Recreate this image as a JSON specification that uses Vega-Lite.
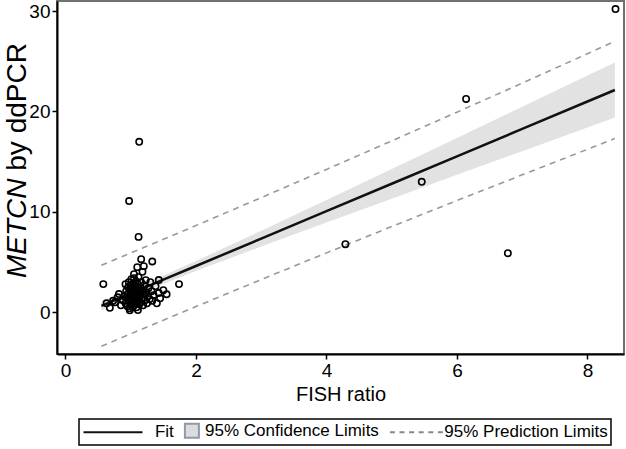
{
  "$schema": "https://vega.github.io/schema/vega-lite/v6.json",
  "width": 567,
  "height": 353,
  "autosize": {"type": "none"},
  "padding": {"left": 57, "top": 1, "right": 2, "bottom": 95},
  "config": {
    "font": "Liberation Sans",
    "view": {"stroke": "#707070", "strokeWidth": 2},
    "axis": {"grid": false, "domainColor": "#000", "domainWidth": 2, "tickColor": "#000", "tickWidth": 1.5, "tickSize": 5, "labelColor": "#000", "titleColor": "#000", "labelFontSize": 19, "titleFontSize": 20, "titleFontWeight": "normal", "labelPadding": 2, "format": "d"},
    "legend": {"orient": "none", "legendX": 22, "legendY": 418, "direction": "horizontal", "strokeColor": "#000", "strokeWidth": 1.5, "padding": 3, "labelFontSize": 17, "labelColor": "#000", "labelLimit": 400, "symbolStrokeWidth": 2, "symbolOpacity": 1, "symbolSize": 16, "symbolFillColor": "#dcdcdc", "columnPadding": 6, "labelOffset": 4, "title": null}
  },
  "resolve": {"axis": {"y": "independent"}},
  "datasets": {
    "pts": [
      {"x": 8.43, "y": 30.2}, {"x": 6.14, "y": 21.25}, {"x": 5.46, "y": 13.0}, {"x": 4.29, "y": 6.78}, {"x": 6.78, "y": 5.89},
      {"x": 1.13, "y": 16.98}, {"x": 0.975, "y": 11.08}, {"x": 1.12, "y": 7.51}, {"x": 1.16, "y": 5.29}, {"x": 1.33, "y": 5.06},
      {"x": 1.18, "y": 4.03}, {"x": 0.58, "y": 2.81}, {"x": 1.74, "y": 2.81}, {"x": 1.43, "y": 1.92}, {"x": 1.43, "y": 3.21},
      {"x": 1.33, "y": 1.15}, {"x": 1.11, "y": 0.23}, {"x": 0.985, "y": 0.2}, {"x": 0.63, "y": 0.9}, {"x": 0.68, "y": 0.45},
      {"x": 0.73, "y": 1.15}, {"x": 0.82, "y": 1.82},
      {"x": 0.88, "y": 1.2}, {"x": 0.90, "y": 1.6}, {"x": 0.92, "y": 0.9}, {"x": 0.93, "y": 2.1}, {"x": 0.94, "y": 1.4},
      {"x": 0.95, "y": 0.6}, {"x": 0.95, "y": 1.8}, {"x": 0.96, "y": 2.5}, {"x": 0.97, "y": 1.1}, {"x": 0.97, "y": 3.0},
      {"x": 0.98, "y": 0.4}, {"x": 0.98, "y": 1.5}, {"x": 0.99, "y": 2.2}, {"x": 1.00, "y": 0.8}, {"x": 1.00, "y": 1.3},
      {"x": 1.00, "y": 1.9}, {"x": 1.00, "y": 2.7}, {"x": 1.01, "y": 3.3}, {"x": 1.02, "y": 1.0}, {"x": 1.02, "y": 1.6},
      {"x": 1.02, "y": 2.4}, {"x": 1.03, "y": 0.5}, {"x": 1.03, "y": 2.0}, {"x": 1.04, "y": 1.2}, {"x": 1.04, "y": 2.9},
      {"x": 1.05, "y": 1.7}, {"x": 1.05, "y": 0.7}, {"x": 1.05, "y": 3.4}, {"x": 1.06, "y": 2.3}, {"x": 1.06, "y": 1.4},
      {"x": 1.07, "y": 0.9}, {"x": 1.07, "y": 2.6}, {"x": 1.08, "y": 1.9}, {"x": 1.08, "y": 3.1}, {"x": 1.09, "y": 1.1},
      {"x": 1.09, "y": 0.5}, {"x": 1.10, "y": 2.2}, {"x": 1.10, "y": 1.6}, {"x": 1.11, "y": 2.8}, {"x": 1.12, "y": 1.3},
      {"x": 1.12, "y": 3.5}, {"x": 1.13, "y": 0.8}, {"x": 1.13, "y": 2.0}, {"x": 1.14, "y": 1.7}, {"x": 1.15, "y": 2.5},
      {"x": 1.15, "y": 1.0}, {"x": 1.16, "y": 3.0}, {"x": 1.17, "y": 1.4}, {"x": 1.18, "y": 2.2}, {"x": 1.19, "y": 0.7},
      {"x": 1.20, "y": 1.8}, {"x": 1.21, "y": 2.7}, {"x": 1.22, "y": 1.2}, {"x": 1.23, "y": 3.2}, {"x": 1.24, "y": 2.0},
      {"x": 1.25, "y": 0.9}, {"x": 1.26, "y": 1.6}, {"x": 1.27, "y": 2.4}, {"x": 1.29, "y": 1.3}, {"x": 1.30, "y": 3.0},
      {"x": 1.32, "y": 2.1}, {"x": 1.35, "y": 1.7}, {"x": 1.38, "y": 2.6}, {"x": 1.40, "y": 0.9}, {"x": 1.45, "y": 1.4},
      {"x": 1.50, "y": 2.2}, {"x": 1.55, "y": 1.8}, {"x": 0.85, "y": 0.7}, {"x": 0.80, "y": 1.5}, {"x": 0.76, "y": 1.0},
      {"x": 1.10, "y": 4.5}, {"x": 1.05, "y": 3.8}, {"x": 1.20, "y": 4.6}, {"x": 0.92, "y": 2.8}
    ],
    "fit": [
      {"x": 0.55, "fit": 0.65, "ci_lo": 0.18, "ci_hi": 1.12, "pi_lo": -3.38, "pi_hi": 4.68},
      {"x": 1.0, "fit": 1.88, "ci_lo": 1.47, "ci_hi": 2.29, "pi_lo": -2.14, "pi_hi": 5.90},
      {"x": 1.5, "fit": 3.25, "ci_lo": 2.83, "ci_hi": 3.66, "pi_lo": -0.78, "pi_hi": 7.27},
      {"x": 2.0, "fit": 4.61, "ci_lo": 4.11, "ci_hi": 5.11, "pi_lo": 0.58, "pi_hi": 8.64},
      {"x": 3.0, "fit": 7.34, "ci_lo": 6.56, "ci_hi": 8.12, "pi_lo": 3.26, "pi_hi": 11.42},
      {"x": 4.0, "fit": 10.07, "ci_lo": 8.95, "ci_hi": 11.19, "pi_lo": 5.92, "pi_hi": 14.23},
      {"x": 5.0, "fit": 12.80, "ci_lo": 11.32, "ci_hi": 14.28, "pi_lo": 8.54, "pi_hi": 17.07},
      {"x": 6.0, "fit": 15.53, "ci_lo": 13.69, "ci_hi": 17.37, "pi_lo": 11.13, "pi_hi": 19.93},
      {"x": 7.0, "fit": 18.26, "ci_lo": 16.05, "ci_hi": 20.47, "pi_lo": 13.69, "pi_hi": 22.83},
      {"x": 8.0, "fit": 20.99, "ci_lo": 18.41, "ci_hi": 23.57, "pi_lo": 16.23, "pi_hi": 25.75},
      {"x": 8.42, "fit": 22.14, "ci_lo": 19.41, "ci_hi": 24.87, "pi_lo": 17.30, "pi_hi": 26.99}
    ],
    "leg": [
      {"series": "\u200b\u00a0\u00a0\u00a0\u00a0\u00a0\u00a0\u00a0\u00a0\u00a0\u00a0\u00a0Fit", "x": 0, "y": 0},
      {"series": "95% Confidence Limits", "x": 0, "y": 0},
      {"series": "\u200b\u00a0\u00a0\u00a0\u00a0\u00a0\u00a095% Prediction Limits", "x": 0, "y": 0}
    ]
  },
  "layer": [
    {
      "data": {"name": "fit"},
      "mark": {"type": "area", "color": "#e2e2e2"},
      "encoding": {
        "x": {"field": "x", "type": "quantitative", "title": "FISH ratio", "scale": {"domain": [-0.13, 8.56], "nice": false, "zero": false}, "axis": {"values": [0, 2, 4, 6, 8]}},
        "y": {"field": "ci_lo", "type": "quantitative", "scale": {"domain": [-4.15, 31], "nice": false, "zero": false}, "axis": {"values": [0, 10, 20, 30], "orient": "left", "title": "by ddPCR", "titleFontSize": 28, "titleAngle": -90, "titleAlign": "center", "titleBaseline": "alphabetic", "titleX": -32, "titleY": 105.4}},
        "y2": {"field": "ci_hi"}
      }
    },
    {
      "data": {"name": "fit"},
      "mark": {"type": "line", "color": "#999999", "strokeDash": [6, 5], "strokeWidth": 1.6},
      "encoding": {
        "x": {"field": "x", "type": "quantitative", "title": "FISH ratio"},
        "y": {"field": "pi_lo", "type": "quantitative", "axis": null}
      }
    },
    {
      "data": {"name": "fit"},
      "mark": {"type": "line", "color": "#999999", "strokeDash": [6, 5], "strokeWidth": 1.6},
      "encoding": {
        "x": {"field": "x", "type": "quantitative", "title": "FISH ratio"},
        "y": {"field": "pi_hi", "type": "quantitative", "axis": null}
      }
    },
    {
      "data": {"name": "fit"},
      "mark": {"type": "line", "color": "#111111", "strokeWidth": 2.5},
      "encoding": {
        "x": {"field": "x", "type": "quantitative", "title": "FISH ratio"},
        "y": {"field": "fit", "type": "quantitative", "axis": null}
      }
    },
    {
      "data": {"name": "pts"},
      "mark": {"type": "point", "shape": "circle", "filled": false, "color": "#000", "size": 40, "strokeWidth": 1.6, "opacity": 1},
      "encoding": {
        "x": {"field": "x", "type": "quantitative", "title": "FISH ratio"},
        "y": {"field": "y", "type": "quantitative", "axis": {"orient": "left", "title": "METCN", "titleFontSize": 28, "titleFontStyle": "italic", "titleAngle": -90, "titleAlign": "center", "titleBaseline": "alphabetic", "titleX": -32, "titleY": 226.8, "labels": false, "ticks": false, "domain": false, "grid": false}}
      }
    },
    {
      "data": {"name": "leg"},
      "mark": {"type": "point", "opacity": 0, "filled": true, "fill": "#dcdcdc", "strokeWidth": 2},
      "encoding": {
        "x": {"field": "x", "type": "quantitative", "title": "FISH ratio"},
        "y": {"field": "y", "type": "quantitative", "axis": null},
        "shape": {"field": "series", "type": "nominal", "sort": null, "scale": {"domain": ["\u200b\u00a0\u00a0\u00a0\u00a0\u00a0\u00a0\u00a0\u00a0\u00a0\u00a0\u00a0Fit", "95% Confidence Limits", "\u200b\u00a0\u00a0\u00a0\u00a0\u00a0\u00a095% Prediction Limits"], "range": ["M-3.5,0L26,0", "M-3.8,-3.5L3.2,-3.5L3.2,3.5L-3.8,3.5Z", "M-6.8,0L-4.3,0M-2,0L0.5,0M2.8,0L5.3,0M7.6,0L10.1,0M12.4,0L14.9,0M17.2,0L19.7,0"]}},
        "stroke": {"field": "series", "type": "nominal", "sort": null, "scale": {"domain": ["\u200b\u00a0\u00a0\u00a0\u00a0\u00a0\u00a0\u00a0\u00a0\u00a0\u00a0\u00a0Fit", "95% Confidence Limits", "\u200b\u00a0\u00a0\u00a0\u00a0\u00a0\u00a095% Prediction Limits"], "range": ["#111111", "#8d9aab", "#888888"]}}
      }
    }
  ]
}
